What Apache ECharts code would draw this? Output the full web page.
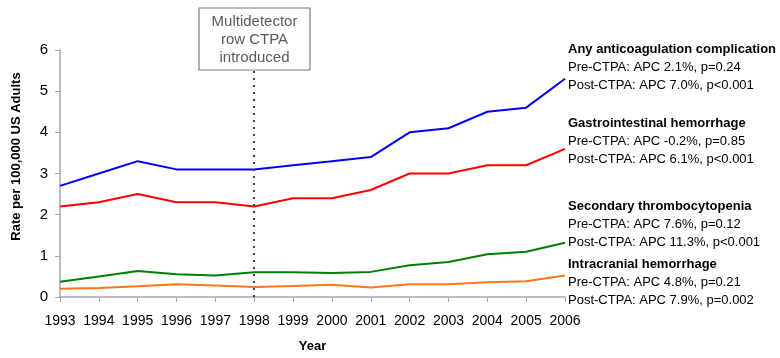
<!DOCTYPE html>
<html><head><meta charset="utf-8">
<script src="https://cdn.jsdelivr.net/npm/echarts@6/dist/echarts.min.js"></script>
<style>html,body{margin:0;padding:0;background:#fff}#c{width:780px;height:358px}</style>
</head><body><div id="c"></div>
<script>
var years = ['1993','1994','1995','1996','1997','1998','1999','2000','2001','2002','2003','2004','2005','2006'];
var anyComplication = [2.7,3.0,3.3,3.1,3.1,3.1,3.2,3.3,3.4,4.0,4.1,4.5,4.6,5.3];
var giHemorrhage = [2.2,2.3,2.5,2.3,2.3,2.2,2.4,2.4,2.6,3.0,3.0,3.2,3.2,3.6];
var thrombocytopenia = [0.37,0.5,0.63,0.55,0.52,0.6,0.6,0.58,0.61,0.77,0.85,1.04,1.1,1.32];
var intracranial = [0.2,0.22,0.26,0.31,0.28,0.24,0.27,0.30,0.23,0.31,0.31,0.36,0.38,0.52];
var yTicks = [0,1,2,3,4,5,6];
var labelBlocks = [
  {title:'Any anticoagulation complication', pre:'Pre-CTPA: APC 2.1%, p=0.24', post:'Post-CTPA: APC 7.0%, p<0.001', y:51},
  {title:'Gastrointestinal hemorrhage', pre:'Pre-CTPA: APC -0.2%, p=0.85', post:'Post-CTPA: APC 6.1%, p<0.001', y:125},
  {title:'Secondary thrombocytopenia', pre:'Pre-CTPA: APC 7.6%, p=0.12', post:'Post-CTPA: APC 11.3%, p<0.001', y:208},
  {title:'Intracranial hemorrhage', pre:'Pre-CTPA: APC 4.8%, p=0.21', post:'Post-CTPA: APC 7.9%, p=0.002', y:266}
];
var FONT = 'Liberation Sans';
var chart = echarts.init(document.getElementById('c'));
var graphics = [];
labelBlocks.forEach(function(b){
  graphics.push({type:'text', left:568, top:b.y-8, z:10, style:{text:b.title, font:'bold 13px "'+FONT+'"', fill:'#000'}});
  graphics.push({type:'text', left:568, top:b.y+10, z:10, style:{text:b.pre, font:'13px "'+FONT+'"', fill:'#000'}});
  graphics.push({type:'text', left:568, top:b.y+28, z:10, style:{text:b.post, font:'13px "'+FONT+'"', fill:'#000'}});
});
graphics.push({type:'rect', x:199, y:8, z:100, shape:{x:0,y:0,width:111,height:62}, style:{fill:'#fff', stroke:'#7f7f7f', lineWidth:1.2}});
graphics.push({type:'text', x:254.5, y:39.5, z:101, style:{text:'Multidetector\nrow CTPA\nintroduced', font:'15px "'+FONT+'"', fill:'#595959', align:'center', verticalAlign:'middle', lineHeight:18}});
function line(name, data, color){
  return {name:name, type:'line', data:data, symbol:'none', lineStyle:{color:color, width:2}, itemStyle:{color:color}, z:3};
}
var s1 = line('Any anticoagulation complication', anyComplication, '#0000ff');
s1.markLine = {silent:true, symbol:'none', label:{show:false}, lineStyle:{color:'#404040', type:[2,5], width:2}, data:[{xAxis:'1998'}]};
chart.setOption({
  animation:false,
  grid:{left:60, right:215, top:50, bottom:60},
  xAxis:{type:'category', data:years, boundaryGap:false, name:'Year', nameLocation:'middle', nameGap:43,
    nameTextStyle:{fontFamily:FONT, fontWeight:'bold', fontSize:13, color:'#000'},
    axisLine:{lineStyle:{color:'#a6a6b4', width:1.5}}, axisTick:{show:true, length:5, lineStyle:{color:'#a6a6b4'}},
    axisLabel:{fontFamily:FONT, fontSize:14, color:'#000', margin:17, interval:0}, splitLine:{show:false}},
  yAxis:{type:'value', min:yTicks[0], max:yTicks[yTicks.length-1], interval:1, name:'Rate per 100,000 US Adults', nameLocation:'middle', nameGap:37,
    nameTextStyle:{fontFamily:FONT, fontWeight:'bold', fontSize:13, color:'#000', padding:[0,0,0,34]},
    axisLine:{show:true, lineStyle:{color:'#a6a6b4', width:1.5}}, axisTick:{show:true, length:5, lineStyle:{color:'#a6a6b4'}},
    axisLabel:{fontFamily:FONT, fontSize:15, color:'#000', margin:12}, splitLine:{show:false}},
  series:[s1,
    line('Gastrointestinal hemorrhage', giHemorrhage, '#ff0000'),
    line('Secondary thrombocytopenia', thrombocytopenia, '#008000'),
    line('Intracranial hemorrhage', intracranial, '#ff7518')],
  graphic:graphics
});
</script></body></html>
